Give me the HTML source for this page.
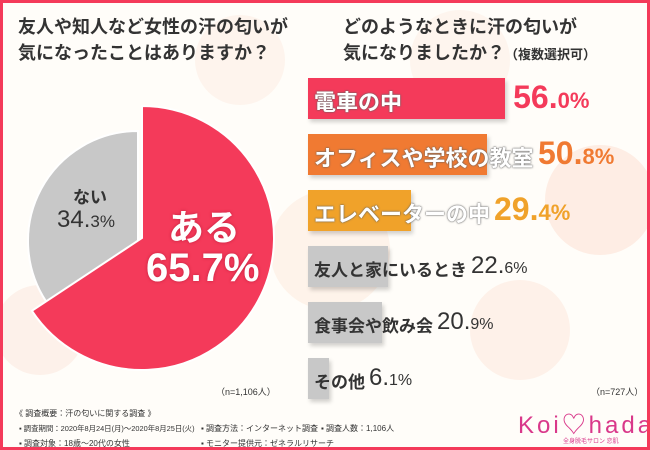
<!DOCTYPE html>
<html><head><meta charset="utf-8"><style>
body{margin:0;}
#c{position:relative;width:650px;height:450px;overflow:hidden;background:#fffdf9;box-sizing:border-box;border:3px solid #f43a5a;font-family:"Liberation Sans","Noto Sans CJK JP",sans-serif;color:#333;}
.t{position:absolute;font-size:18px;font-weight:bold;line-height:26px;white-space:nowrap;color:#333;}
.bar{position:absolute;height:41px;box-shadow:2px 3px 4px rgba(0,0,0,.18);}
.lab{position:absolute;white-space:nowrap;font-weight:bold;}
.foot{position:absolute;font-size:8px;white-space:nowrap;color:#333;}
</style></head><body>
<div id="c">
<svg width="650" height="450" style="position:absolute;left:-3px;top:-3px">
<circle cx="330" cy="250" r="60" fill="#fde9dc" opacity=".5"/>
<circle cx="600" cy="200" r="55" fill="#fde3d6" opacity=".6"/>
<circle cx="520" cy="330" r="50" fill="#fdeade" opacity=".6"/>
<circle cx="40" cy="330" r="45" fill="#fbe9e0" opacity=".6"/>
<circle cx="240" cy="60" r="45" fill="#fdeee4" opacity=".6"/>
<circle cx="460" cy="60" r="50" fill="#fdeee4" opacity=".5"/>
</svg>
<div class="t" style="left:15px;top:11px">友人や知人など女性の汗の匂いが<br>気になったことはありますか？</div>
<div class="t" style="left:340px;top:11px">どのようなときに汗の匂いが<br>気になりましたか？<span style="font-size:13px">（複数選択可）</span></div>
<svg id="pie" width="650" height="450" style="position:absolute;left:-3px;top:-3px"></svg>
<div class="lab" style="left:70px;top:180px;font-size:17px;color:#333">ない</div>
<div class="lab" style="left:54px;top:203px;font-size:24px;font-weight:normal;color:#333">34.<span style="font-size:17px">3%</span></div>
<div class="lab" style="left:165px;top:196px;font-size:36px;color:#fff;text-shadow:0 0 3px #c0203f">ある</div>
<div class="lab" style="left:143px;top:243px;font-size:40px;color:#fff;text-shadow:0 0 3px #c0203f">65.7%</div>
<div class="foot" style="left:213px;top:382px;font-size:9px">（n=1,106人）</div>
<div id="bars"></div>
<div class="foot" style="left:588px;top:382px;font-size:9px">（n=727人）</div>
<div class="foot" style="left:12px;top:405px">《 調査概要：汗の匂いに関する調査 》</div>
<div class="foot" style="left:16px;top:420px;font-size:7.4px">▪ 調査期間：2020年8月24日(月)～2020年8月25日(火)</div>
<div class="foot" style="left:16px;top:435px">▪ 調査対象：18歳～20代の女性</div>
<div class="foot" style="left:198px;top:420px">▪ 調査方法：インターネット調査</div>
<div class="foot" style="left:198px;top:435px">▪ モニター提供元：ゼネラルリサーチ</div>
<div class="foot" style="left:318px;top:420px">▪ 調査人数：1,106人</div>
<div class="lab" style="left:515px;top:402px;font-size:24px;font-weight:normal;color:#d9388a;letter-spacing:3px">Koi♡hada</div>
<div class="foot" style="left:560px;top:433px;font-size:6px;color:#d9388a">全身脱毛サロン 恋肌</div>
</div>
<script>
const pieLabels=["ある","ない"];
const pieValues=[65.7,34.3];
const barCats=["電車の中","オフィスや学校の教室","エレベーターの中","友人と家にいるとき","食事会や飲み会","その他"];
const barValues=[56.0,50.8,29.4,22.6,20.9,6.1];
const barColors=["#f43a5a","#f07a32","#f0a22a","#c8c8c8","#c8c8c8","#c8c8c8"];
const NS="http://www.w3.org/2000/svg";
const pie=document.getElementById('pie');
function arc(cx,cy,r,a0,a1,fill,name){
  const p=(a)=>[cx+r*Math.sin(a),cy-r*Math.cos(a)];
  const [x0,y0]=p(a0),[x1,y1]=p(a1);
  const large=(a1-a0)>Math.PI?1:0;
  const el=document.createElementNS(NS,'path');
  el.setAttribute('d',`M${cx},${cy}L${x0},${y0}A${r},${r} 0 ${large} 1 ${x1},${y1}Z`);
  el.setAttribute('fill',fill);el.setAttribute('stroke','#fff');el.setAttribute('stroke-width','2');
  
  
  pie.appendChild(el);
}
const tot=pieValues.reduce((a,b)=>a+b,0);
const aEnd=2*Math.PI*pieValues[0]/tot;
arc(138,241,110,aEnd,2*Math.PI,"#c8c8c8","pie-slice-nai");
arc(142,238,132,0,aEnd,"#f43a5a","pie-slice-aru");
const bars=document.getElementById('bars');
const x0=305,scale=3.52,yTop=75,step=56;
barValues.forEach((v,i)=>{
  const y=yTop+i*step;
  const big=i<3;
  const b=document.createElement('div');b.className='bar';
  b.style.left=x0+'px';b.style.top=y+'px';b.style.width=(v*scale)+'px';b.style.background=barColors[i];
  
  
  bars.appendChild(b);
  const l=document.createElement('div');l.className='lab';
  l.style.left=(x0+6)+'px';l.style.top=(y+(big?7:10))+'px';
  l.style.fontSize=(big?22:17)+'px';
  l.style.color=big?'#fff':'#333';
  if(big) l.style.textShadow='0 0 2px #666,0 0 1px #555';
  l.textContent=barCats[i];
  
  
  bars.appendChild(l);
  const parts=v.toFixed(1).split('.');
  const val=document.createElement('div');val.className='lab';
  val.style.color=big?barColors[i]:'#333';
  val.style.fontSize=(big?32:24)+'px';
  val.style.fontWeight=big?'bold':'normal';
  val.style.top=(y+(big?1:6))+'px';
  val.innerHTML=parts[0]+'.<span style="font-size:'+(big?22:16)+'px">'+parts[1]+'%</span>';
  const labEnd=x0+6+l.offsetWidth;
  const barEnd=x0+v*scale;
  val.style.left=Math.max(barEnd+8,labEnd+4)+'px';
  
  
  bars.appendChild(val);
});
</script>
</body></html>
